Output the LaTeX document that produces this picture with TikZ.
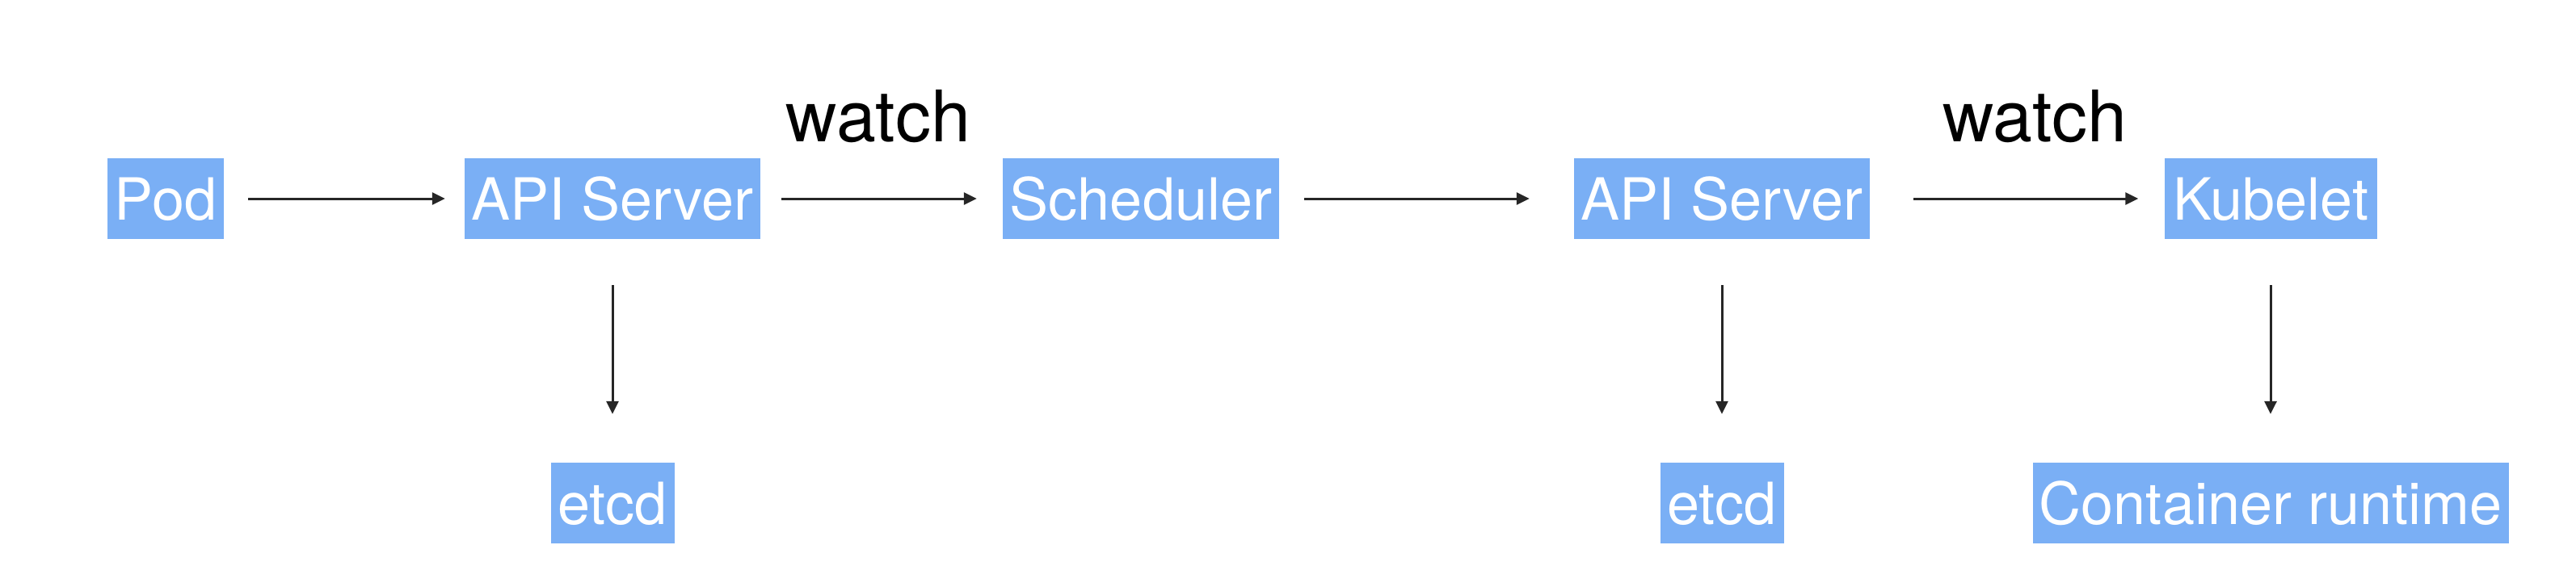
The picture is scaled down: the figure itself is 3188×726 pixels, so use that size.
\documentclass[tikz,border=0pt]{standalone}
\usepackage{fontspec}
\setmainfont{TeX Gyre Heros}
\usetikzlibrary{arrows.meta}
\definecolor{boxblue}{RGB}{122,175,245}
\begin{document}
\begin{tikzpicture}[x=1pt,y=-1pt,
  box/.style={fill=boxblue, text=white, font=\fontsize{72}{86}\selectfont,
    inner xsep=0pt, inner ysep=0pt, minimum height=100pt,
    text height=52pt, text depth=0pt, anchor=center},
  conn/.style={line width=3pt, draw=black!85, -{Triangle[length=16pt,width=15pt]}},
  watchlbl/.style={font=\fontsize{88}{100}\selectfont, text=black, anchor=base, inner sep=0pt}]
\useasboundingbox (0,0) rectangle (3188,726);
% top row
\node[box, minimum width=144pt] (pod)   at (205,246)  {Pod};
\node[box, minimum width=366pt] (api1)  at (758,246)  {API Server};
\node[box, minimum width=342pt] (sched) at (1412,246) {Scheduler};
\node[box, minimum width=366pt] (api2)  at (2131,246) {API Server};
\node[box, minimum width=263pt] (kub)   at (2810,246) {Kubelet};
% bottom row
\node[box, minimum width=153pt] (etcd1) at (758,623)  {etcd};
\node[box, minimum width=153pt] (etcd2) at (2131,623) {etcd};
\node[box, minimum width=589pt] (crt)   at (2810,623) {Container runtime};
% horizontal connectors
\draw[conn, shorten <=30pt, shorten >=24pt] (pod.east) -- (api1.west);
\draw[conn, shorten <=26pt, shorten >=32pt] (api1.east) -- node[watchlbl, yshift=71pt, xshift=-4pt] (w1) {watch} (sched.west);
\draw[conn, shorten <=31pt, shorten >=55pt] (sched.east) -- (api2.west);
\draw[conn, shorten <=54pt, shorten >=32pt] (api2.east) -- node[watchlbl, yshift=71pt, xshift=22pt] (w2) {watch} (kub.west);
% vertical connectors
\draw[conn, shorten <=57pt, shorten >=60pt] (api1.south) -- (etcd1.north);
\draw[conn, shorten <=57pt, shorten >=60pt] (api2.south) -- (etcd2.north);
\draw[conn, shorten <=57pt, shorten >=60pt] (kub.south) -- (crt.north);
\end{tikzpicture}
\end{document}
